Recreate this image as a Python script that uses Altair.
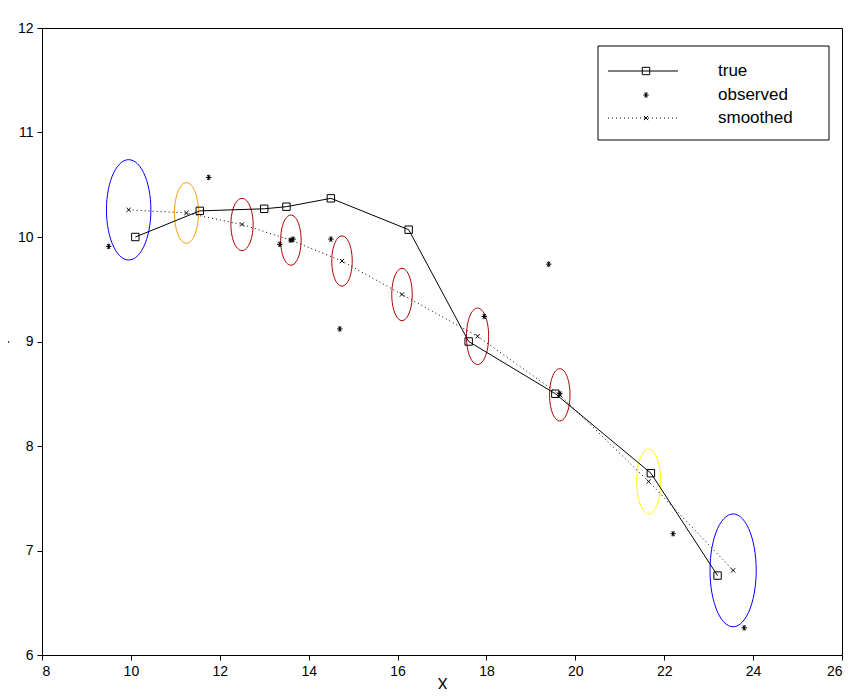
import numpy as np
import pandas as pd
import altair as alt

# True track
true_x = [10.1, 11.55, 13.0, 13.5, 14.5, 16.25, 17.6, 19.55, 21.7, 23.2]
true_y = [10.0, 10.25, 10.27, 10.29, 10.37, 10.07, 9.0, 8.5, 7.74, 6.76]

# Noisy observations
obs_x = [9.5, 11.75, 13.35, 13.6, 13.65, 14.5, 14.7, 17.95, 19.4, 19.65, 22.2, 23.8]
obs_y = [9.91, 10.57, 9.93, 9.97, 9.98, 9.98, 9.12, 9.24, 9.74, 8.5, 7.16, 6.26]

# Smoothed estimates with covariance ellipse radii
sm_x = [9.95, 11.25, 12.5, 13.6, 14.75, 16.1, 17.8, 19.65, 21.65, 23.55]
sm_y = [10.26, 10.23, 10.12, 9.97, 9.77, 9.45, 9.05, 8.49, 7.66, 6.81]
sm_rx = [0.5, 0.27, 0.25, 0.23, 0.23, 0.23, 0.25, 0.23, 0.27, 0.52]
sm_ry = [0.48, 0.29, 0.25, 0.24, 0.24, 0.25, 0.27, 0.25, 0.31, 0.54]
sm_col = ["#0000ff", "#ff9900", "#aa0000", "#aa0000", "#aa0000", "#aa0000",
          "#aa0000", "#aa0000", "#ffff00", "#0000ff"]

FONT = "Liberation Sans"
xs = alt.Scale(domain=[8, 26], nice=False)
ys = alt.Scale(domain=[6, 12], nice=False)
X = lambda f, **k: alt.X(f, scale=xs, **k)
Y = lambda f, **k: alt.Y(f, scale=ys, **k)

true_df = pd.DataFrame({"x": true_x, "y": true_y, "i": range(len(true_x))})
obs_df = pd.DataFrame({"x": obs_x, "y": obs_y})
sm_df = pd.DataFrame({"x": sm_x, "y": sm_y, "i": range(len(sm_x))})

t = np.linspace(0, 2 * np.pi, 61)
rows = []
for k in range(len(sm_x)):
    for j, a in enumerate(t):
        rows.append({"e": k, "j": j, "c": sm_col[k],
                     "x": sm_x[k] + sm_rx[k] * np.cos(a),
                     "y": sm_y[k] + sm_ry[k] * np.sin(a)})
ell_df = pd.DataFrame(rows)

asterisk = "M-1,0L1,0M-0.5,-0.87L0.5,0.87M-0.5,0.87L0.5,-0.87M0,-1L0,1"
xmark = "M-1,-1L1,1M-1,1L1,-1"

def pts(df, shape, size):
    return alt.Chart(df).mark_point(shape=shape, stroke="black", fill="transparent",
                                    size=size, strokeWidth=1, opacity=1)

true_line = alt.Chart(true_df).mark_line(color="black", strokeWidth=1).encode(
    x=X("x:Q", title="X", axis=alt.Axis(values=list(range(8, 27, 2)), grid=False, format="d")),
    y=Y("y:Q", title="Y", axis=alt.Axis(values=list(range(6, 13)), grid=False, format="d")),
    order="i:Q")
true_pts = pts(true_df, "square", 55).encode(x=X("x:Q"), y=Y("y:Q"))
sm_line = alt.Chart(sm_df).mark_line(color="black", strokeWidth=1, strokeDash=[1, 3]).encode(
    x=X("x:Q"), y=Y("y:Q"), order="i:Q")
sm_pts = pts(sm_df, xmark, 18).encode(x=X("x:Q"), y=Y("y:Q"))
obs_pts = pts(obs_df, asterisk, 30).encode(x=X("x:Q"), y=Y("y:Q"))
ells = alt.Chart(ell_df).mark_line(strokeWidth=1).encode(
    x=X("x:Q"), y=Y("y:Q"), detail="e:N", order="j:Q",
    color=alt.Color("c:N", scale=None))

# Legend box drawn by hand in pixel space
leg_box = alt.Chart(pd.DataFrame({"a": [0]})).mark_rect(
    fill="white", stroke="black", strokeWidth=1).encode(
    x=alt.value(556), x2=alt.value(787), y=alt.value(18), y2=alt.value(112))
leg_names = ["true", "observed", "smoothed"]
leg_df = pd.DataFrame({"name": leg_names, "py": [43, 67, 90]})
leg_text = alt.Chart(leg_df).mark_text(align="left", font=FONT, fontSize=17).encode(
    x=alt.value(676), y=alt.Y("py:Q", scale=None), text="name:N")
leg_l1 = alt.Chart(leg_df[leg_df.name == "true"]).mark_rule(color="black").encode(
    x=alt.value(566), x2=alt.value(636), y=alt.Y("py:Q", scale=None))
leg_l3 = alt.Chart(leg_df[leg_df.name == "smoothed"]).mark_rule(
    color="black", strokeDash=[1, 3]).encode(
    x=alt.value(566), x2=alt.value(636), y=alt.Y("py:Q", scale=None))
leg_sq = pts(leg_df[leg_df.name == "true"], "square", 55).encode(
    x=alt.value(604), y=alt.Y("py:Q", scale=None))
leg_st = pts(leg_df[leg_df.name == "observed"], asterisk, 30).encode(
    x=alt.value(604), y=alt.Y("py:Q", scale=None))
leg_x = pts(leg_df[leg_df.name == "smoothed"], xmark, 18).encode(
    x=alt.value(604), y=alt.Y("py:Q", scale=None))

chart = alt.layer(
    ells, true_line, true_pts, sm_line, sm_pts, obs_pts,
    leg_box, leg_l1, leg_l3, leg_sq, leg_st, leg_x, leg_text
).properties(
    width=800, height=627,
    autosize=alt.AutoSizeParams(type="none"),
    padding={"left": 34, "top": 20, "right": 1, "bottom": 34},
    background="white",
).configure_view(stroke="black", strokeWidth=1).configure_axis(
    labelFont=FONT, titleFont=FONT, labelFontSize=14, titleFontSize=16,
    titleFontWeight="normal", labelColor="black", titleColor="black",
    domainColor="black", tickColor="black", tickSize=5, labelPadding=4,
).configure_axisX(titlePadding=-2).configure_axisY(titlePadding=6)

chart.save("out.html", embed_options={"renderer": "svg", "actions": False})
